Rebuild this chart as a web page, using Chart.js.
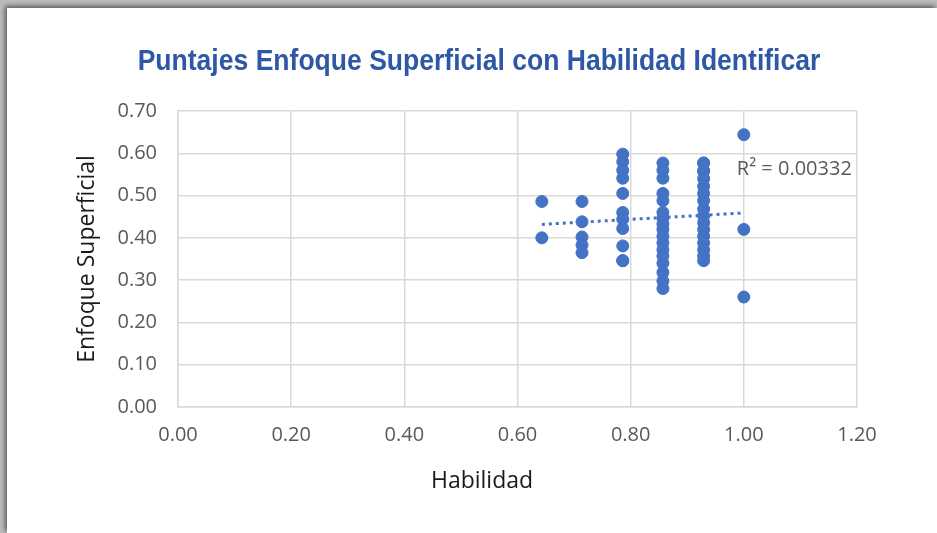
<!DOCTYPE html>
<html>
<head>
<meta charset="utf-8">
<script src="https://cdn.jsdelivr.net/npm/chart.js@4.4.0/dist/chart.umd.min.js"></script>
<style>
    html, body { margin: 0; padding: 0; }
    body { width: 937px; height: 533px; background: #bdbdbd; overflow: hidden; position: relative; }
    #card {
        position: absolute; left: 7px; top: 8px; width: 930px; height: 525px;
        background: #fff; box-shadow: -2px -2px 5px rgba(0, 0, 0, 0.55);
    }
    #title {
        position: absolute; left: 0; top: 43px; width: 958px; line-height: 34px;
        text-align: center; white-space: nowrap;
        font-family: "Liberation Sans", Arial, sans-serif; font-weight: bold; font-size: 29px;
        color: #2E58A6; transform: scaleX(0.915); transform-origin: 479px 50%;
    }
</style>
</head>
<body>
<div id="card"><canvas id="scatterChart"></canvas></div>
<div id="title">Puntajes Enfoque Superficial con Habilidad Identificar</div>
<script>
// Habilidad (x) y Enfoque Superficial (y) por estudiante
const habilidad = [
    0.643, 0.643,
    0.714, 0.714, 0.714, 0.714, 0.714,
    0.786, 0.786, 0.786, 0.786, 0.786, 0.786, 0.786, 0.786, 0.786, 0.786, 0.786,
    0.857, 0.857, 0.857, 0.857, 0.857, 0.857, 0.857, 0.857, 0.857, 0.857, 0.857, 0.857, 0.857, 0.857, 0.857, 0.857, 0.857,
    0.929, 0.929, 0.929, 0.929, 0.929, 0.929, 0.929, 0.929, 0.929, 0.929, 0.929, 0.929, 0.929, 0.929, 0.929, 0.929, 0.929,
    1.0, 1.0, 1.0
];
const enfoque = [
    0.486, 0.400,
    0.486, 0.438, 0.402, 0.383, 0.365,
    0.598, 0.580, 0.560, 0.541, 0.505, 0.460, 0.444, 0.422, 0.381, 0.346, 0.346,
    0.577, 0.560, 0.541, 0.505, 0.488, 0.460, 0.447, 0.433, 0.420, 0.404, 0.388, 0.372, 0.357, 0.340, 0.318, 0.298, 0.280,
    0.577, 0.577, 0.558, 0.558, 0.540, 0.522, 0.505, 0.488, 0.468, 0.452, 0.436, 0.420, 0.404, 0.388, 0.372, 0.357, 0.346,
    0.644, 0.420, 0.260
];
const xTicks = [0, 0.2, 0.4, 0.6, 0.8, 1.0, 1.2];
const yTicks = [0, 0.1, 0.2, 0.3, 0.4, 0.5, 0.6, 0.7];
const xTitle = 'Habilidad';
const rSquaredLabel = 'R² = 0.00332';

const BLUE = '#4472C4';
const GRID = '#d9d9d9';
const TICK = '#595959';

const points = habilidad.map((x, i) => ({ x: x, y: enfoque[i] }));

// Línea de tendencia lineal (mínimos cuadrados)
function linearFit(xs, ys) {
    const n = xs.length;
    const mx = xs.reduce((a, b) => a + b, 0) / n;
    const my = ys.reduce((a, b) => a + b, 0) / n;
    let sxy = 0, sxx = 0;
    for (let i = 0; i < n; i++) {
        sxy += (xs[i] - mx) * (ys[i] - my);
        sxx += (xs[i] - mx) * (xs[i] - mx);
    }
    const slope = sxy / sxx;
    return { slope: slope, intercept: my - slope * mx };
}
const fit = linearFit(habilidad, enfoque);
const xMin = Math.min(...habilidad);
const xMax = Math.max(...habilidad);
const trend = [
    { x: xMin, y: fit.intercept + fit.slope * xMin },
    { x: xMax, y: fit.intercept + fit.slope * xMax }
];

// Etiqueta R² y título del eje X (centrado como en Excel)
const labelsPlugin = {
    id: 'extraLabels',
    afterDatasetsDraw(chart) {
        const ctx = chart.ctx;
        const xs = chart.scales.x, ys = chart.scales.y;
        ctx.save();
        ctx.font = '20px "Open Sans"';
        ctx.fillStyle = TICK;
        ctx.textAlign = 'left';
        ctx.textBaseline = 'middle';
        ctx.fillText(rSquaredLabel, xs.getPixelForValue(1.0) - 7, ys.getPixelForValue(0.561));

        ctx.font = '23px "Open Sans"';
        ctx.fillStyle = '#1a1a1a';
        ctx.textAlign = 'center';
        ctx.fillText(xTitle, 475, 473);
        ctx.restore();
    }
};

new Chart(document.getElementById('scatterChart'), {
    type: 'scatter',
    data: {
        datasets: [
            {
                label: 'Enfoque Superficial',
                data: points,
                backgroundColor: BLUE,
                borderColor: BLUE,
                pointRadius: 6,
                pointHoverRadius: 6,
                order: 1
            },
            {
                type: 'line',
                label: 'Tendencia',
                data: trend,
                borderColor: BLUE,
                borderWidth: 3,
                borderDash: [3, 4],
                pointRadius: 0,
                fill: false,
                order: 2
            }
        ]
    },
    options: {
        responsive: true,
        maintainAspectRatio: false,
        animation: false,
        layout: { padding: { left: 67, right: 80, top: 103, bottom: 30 } },
        plugins: {
            legend: { display: false },
            tooltip: { enabled: false },
            title: { display: false }
        },
        scales: {
            x: {
                type: 'linear',
                min: 0,
                max: 1.2,
                afterBuildTicks(scale) { scale.ticks = xTicks.map(v => ({ value: v })); },
                afterFit(scale) { scale.height = 96; },
                ticks: {
                    color: TICK,
                    padding: 16,
                    font: { family: '"Open Sans"', size: 20 },
                    callback: v => v.toFixed(2)
                },
                grid: { color: GRID, lineWidth: 1.5, drawTicks: false },
                border: { color: GRID, width: 1.5 }
            },
            y: {
                type: 'linear',
                min: 0,
                max: 0.7,
                afterBuildTicks(scale) { scale.ticks = yTicks.map(v => ({ value: v })); },
                afterFit(scale) { scale.width = 104; },
                ticks: {
                    color: TICK,
                    padding: 21,
                    font: { family: '"Open Sans"', size: 20 },
                    callback: v => v.toFixed(2)
                },
                grid: { color: GRID, lineWidth: 1.5, drawTicks: false },
                border: { color: GRID, width: 1.5 },
                title: {
                    display: true,
                    text: 'Enfoque Superficial',
                    color: '#1a1a1a',
                    font: { family: '"Open Sans"', size: 23 },
                    padding: { top: 0, bottom: 0 }
                }
            }
        }
    },
    plugins: [labelsPlugin]
});
</script>
</body>
</html>
